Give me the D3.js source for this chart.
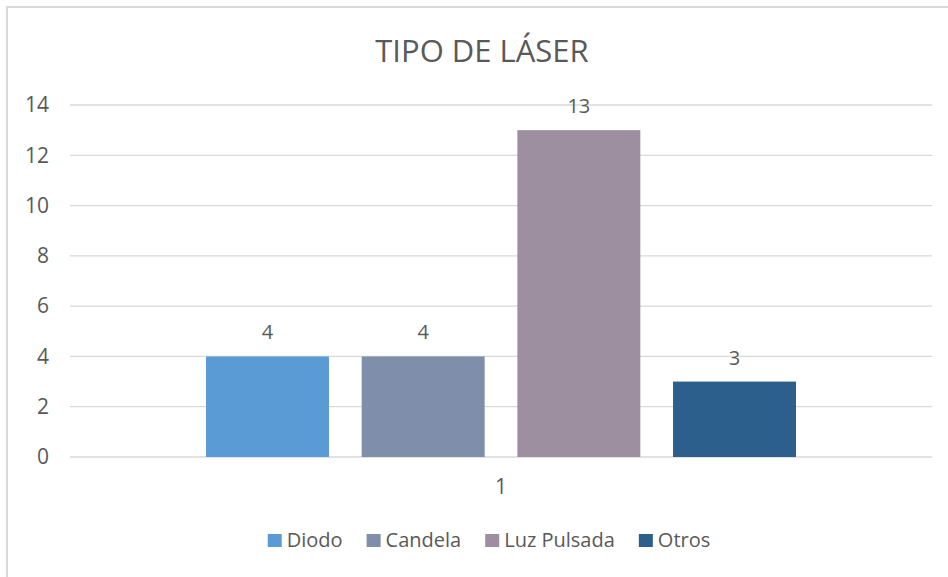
<!DOCTYPE html>
<html>
<head>
<meta charset="utf-8">
<script src="https://cdn.jsdelivr.net/npm/d3@7"></script>
<style>
  body { margin: 0; background: #fff; }
  svg { font-family: "Open Sans", sans-serif; }
  .grid line { stroke: #d9d9d9; stroke-width: 1.3; }
  .lbl { fill: #595959; }
</style>
</head>
<body>
<div id="chart"></div>
<script>
var title = 'TIPO DE LÁSER'
var categories = ['1']
var series = ['Diodo', 'Candela', 'Luz Pulsada', 'Otros']
var values = [4, 4, 13, 3]
var colors = ['#5b9bd5', '#7f8eaa', '#9d8fa0', '#2c5f8c']
var yTicks = [0, 2, 4, 6, 8, 10, 12, 14]

var W = 948, H = 577
var plot = { left: 70, right: 932, top: 105, bottom: 457 }

var svg = d3.select('#chart')
    .append('svg')
    .attr('width', W).attr('height', H)

// outer chart frame (only left and top edges fall inside the window)
svg.append('rect')
  .attr('x', 7).attr('y', 7)
  .attr('width', W + 20).attr('height', H + 20)
  .attr('fill', 'none')
  .attr('stroke', '#d9d9d9')
  .attr('stroke-width', 2)

var y = d3.scaleLinear().domain([0, 14]).range([plot.bottom, plot.top])
var x0 = d3.scaleBand().domain(categories).range([plot.left, plot.right]).paddingOuter(0.2305)
var x1 = d3.scaleBand().domain(series).range([0, x0.bandwidth()]).paddingInner(0.21)

// gridlines
svg.append('g')
  .attr('class', 'grid')
  .selectAll('line')
  .data(yTicks)
  .enter()
  .append('line')
  .attr('x1', plot.left).attr('x2', plot.right)
  .attr('y1', d => y(d)).attr('y2', d => y(d))

// y axis labels
var yAxis = svg.append('g')
  .attr('transform', 'translate(49,0)')
  .call(d3.axisLeft(y).tickValues(yTicks).tickSize(0).tickPadding(0))
yAxis.select('.domain').remove()
yAxis.selectAll('text')
  .attr('class', 'lbl')
  .attr('fill', '#595959')
  .style('font-size', '21px')
  .style('font-family', '"Open Sans", sans-serif')

// category axis
var xAxis = svg.append('g')
  .attr('transform', 'translate(0,' + plot.bottom + ')')
  .call(d3.axisBottom(x0).tickSize(0).tickPadding(22))
xAxis.select('.domain').remove()
xAxis.selectAll('text')
  .attr('fill', '#595959')
  .style('font-size', '21px')
  .style('font-family', '"Open Sans", sans-serif')

// bars
var group = svg.append('g')
  .attr('transform', 'translate(' + x0(categories[0]) + ',0)')

group.selectAll('.bar')
  .data(series)
  .enter()
  .append('rect')
  .attr('class', 'bar')
  .attr('x', d => x1(d))
  .attr('width', x1.bandwidth())
  .attr('y', (d, i) => y(values[i]))
  .attr('height', (d, i) => y(0) - y(values[i]))
  .attr('fill', (d, i) => colors[i])

// data labels
group.selectAll('.val')
  .data(series)
  .enter()
  .append('text')
  .attr('class', 'lbl val')
  .attr('x', d => x1(d) + x1.bandwidth() / 2)
  .attr('y', (d, i) => y(values[i]) - 17)
  .attr('text-anchor', 'middle')
  .style('font-size', '20px')
  .text((d, i) => values[i])

// title
svg.append('text')
  .attr('class', 'lbl')
  .attr('x', 482).attr('y', 62)
  .attr('text-anchor', 'middle')
  .style('font-size', '31px')
  .text(title)

// legend
var legend = svg.append('g')
var items = legend.selectAll('g')
  .data(series)
  .enter()
  .append('g')
items.append('rect')
  .attr('width', 14).attr('height', 13)
  .attr('y', -13)
  .attr('fill', (d, i) => colors[i])
items.append('text')
  .attr('class', 'lbl')
  .attr('x', 19)
  .style('font-size', '20px')
  .text(d => d)

var cursor = 0
items.each(function () {
  var w = 19 + this.querySelector('text').getComputedTextLength()
  d3.select(this).attr('transform', 'translate(' + cursor + ',0)')
  cursor += w + 24
})
var total = cursor - 24
legend.attr('transform', 'translate(' + (489 - total / 2) + ',547)')
</script>
</body>
</html>
